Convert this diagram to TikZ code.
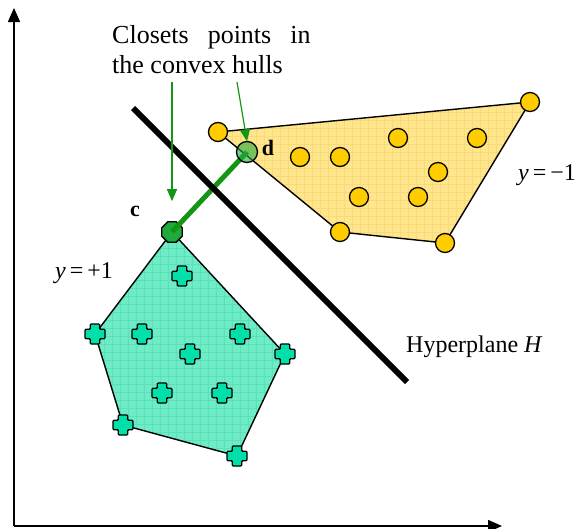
\documentclass[tikz,border=0pt]{standalone}
\usepackage{fontspec}
\setmainfont{Liberation Serif}
\usetikzlibrary{arrows.meta, positioning, shapes.geometric}

\definecolor{hullYellow}{RGB}{255,229,140}
\definecolor{gridYellow}{RGB}{248,218,120}
\definecolor{dotYellow}{RGB}{255,204,0}
\definecolor{hullTeal}{RGB}{110,236,198}
\definecolor{gridTeal}{RGB}{90,224,186}
\definecolor{crossTeal}{RGB}{0,224,168}
\definecolor{linkGreen}{RGB}{20,150,20}
\definecolor{pointGreen}{RGB}{30,170,60}

\begin{document}
\begin{tikzpicture}[x=1pt, y=-1pt, >={Triangle[length=12pt, width=10pt]},
    dot/.style={circle, draw, line width=1.3pt, fill=dotYellow, minimum size=19pt, inner sep=0pt},
    hull/.style={draw, line width=1.4pt, line join=round},
    label/.style={font=\fontsize{24}{28}\selectfont, inner sep=0pt},
    crossmark/.pic={
        \path[draw, line width=1.3pt, fill=crossTeal, rounded corners=1pt]
            (-4.7,-10) -- (4.7,-10) -- (4.7,-4.7) -- (10,-4.7) -- (10,4.7) -- (4.7,4.7)
            -- (4.7,10) -- (-4.7,10) -- (-4.7,4.7) -- (-10,4.7) -- (-10,-4.7) -- (-4.7,-4.7) -- cycle;
    }]

    \useasboundingbox (0,0) rectangle (585,528);

    % Axes
    \coordinate (origin) at (14,526);
    \coordinate (yEnd) at (14,8);
    \coordinate (xEnd) at (502,526);
    \draw[line width=1.5pt, -{Triangle[length=14pt, width=12pt]}] (origin) -- (yEnd);
    \draw[line width=1.5pt, -{Triangle[length=14pt, width=12pt]}] (origin) -- (xEnd);

    % Class y = -1 (convex hull)
    \begin{scope}
        \clip (218,132) -- (530,102) -- (445,243) -- (340,232) -- cycle;
        \fill[hullYellow] (200,90) rectangle (540,250);
        \draw[gridYellow, line width=0.5pt, step=8pt] (200,90) grid (540,250);
    \end{scope}
    \draw[hull] (218,132) -- (530,102) -- (445,243) -- (340,232) -- cycle;

    % Class y = +1 (convex hull)
    \begin{scope}
        \clip (172,232) -- (285,354) -- (237,456) -- (123,425) -- (95,334) -- cycle;
        \fill[hullTeal] (90,225) rectangle (290,460);
        \draw[gridTeal, line width=0.5pt, step=8pt] (90,225) grid (290,460);
    \end{scope}
    \draw[hull] (172,232) -- (285,354) -- (237,456) -- (123,425) -- (95,334) -- cycle;

    % Points y = -1
    \foreach \px/\py/\n in {218/132/1, 530/102/2, 445/243/3, 340/232/4, 300/157/5,
                            340/157/6, 398/138/7, 477/138/8, 438/172/9, 359/197/10, 418/197/11}
        \node[dot] (neg\n) at (\px,\py) {};

    % Points y = +1
    \foreach \px/\py in {285/354, 237/456, 123/425, 95/334, 182/276,
                         142/334, 240/334, 190/354, 162/393, 222/393}
        \pic at (\px,\py) {crossmark};

    % Closest points
    \node[regular polygon, regular polygon sides=8, draw, line width=1.3pt, fill=pointGreen,
          minimum size=22pt, inner sep=0pt] (c) at (172,232) {};
    \node[circle, minimum size=21pt, inner sep=0pt] (d) at (247,152) {};
    \draw[linkGreen, line width=5pt] (c.center) -- (d.center);
    \node[circle, draw, line width=1.3pt, fill=pointGreen, fill opacity=0.6,
          minimum size=21pt, inner sep=0pt] at (d) {};

    % Hyperplane
    \coordinate (hTop) at (133,108);
    \coordinate (hBot) at (407,382);
    \draw[line width=6pt] (hTop) -- (hBot);

    % Labels
    \node[label, font=\fontsize{22}{26}\selectfont\bfseries] (cLabel) at (135,211) {c};
    \node[label, font=\fontsize{22}{26}\selectfont\bfseries] (dLabel) at (268,148) {d};
    \node[label, anchor=west] (posLabel) at (55,273) {\textit{y}\,=\,+1};
    \node[label, anchor=west] (negLabel) at (518,175) {\textit{y}\,=\,−1};
    \node[label, anchor=west] (hypLabel) at (406,347) {Hyperplane \textit{H}};
    \node[label, font=\fontsize{26}{30}\selectfont, anchor=north west, align=left] (note) at (112,25)
        {Closets\hspace{19pt}points\hspace{19pt}in\\the convex hulls};

    % Pointers to the closest points
    \coordinate (tipC) at (172,82);
    \coordinate (tipD) at (237,82);
    \draw[linkGreen, line width=1.2pt, ->] (tipC) -- ([yshift=20pt]c.north);
    \draw[linkGreen, line width=1.2pt, ->] (tipD) -- (d.north);

\end{tikzpicture}
\end{document}
